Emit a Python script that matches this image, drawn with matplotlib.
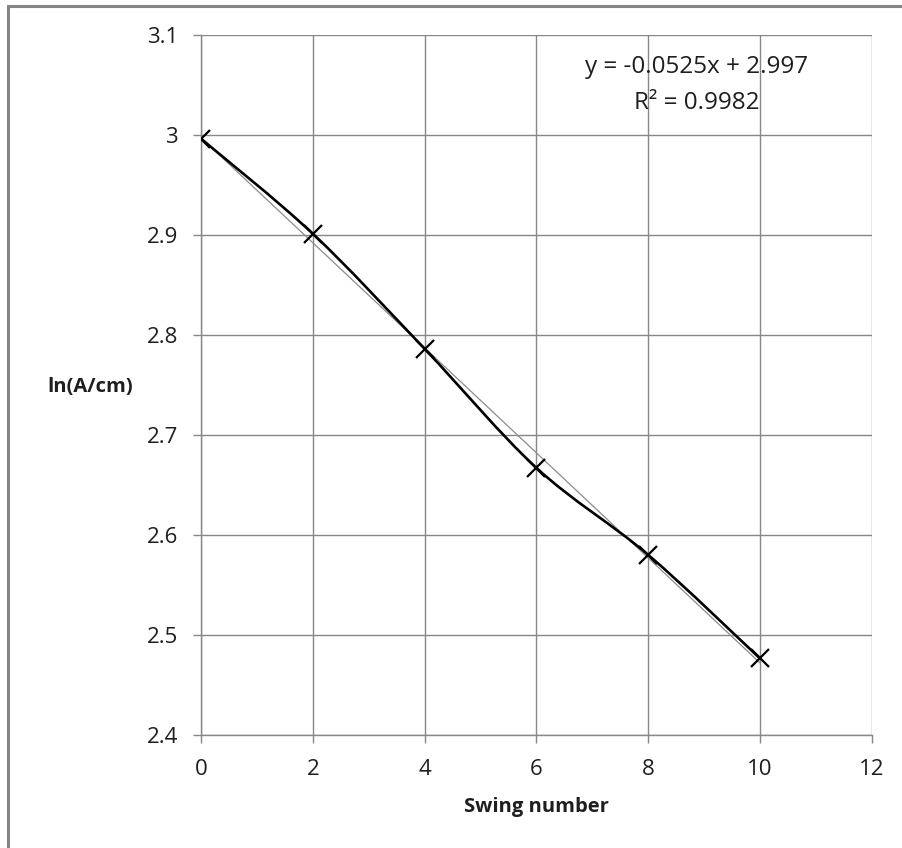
import matplotlib
matplotlib.use("Agg")
import matplotlib.pyplot as plt
from matplotlib.path import Path
from matplotlib.patches import PathPatch, Rectangle
import numpy as np

swing = [0, 2, 4, 6, 8, 10]
ln_a = [2.996, 2.901, 2.786, 2.667, 2.580, 2.4765]
slope = -0.0525
intercept = 2.997
eq_text = "y = -0.0525x + 2.997"
r2_text = "R\u00b2 = 0.9982"
x_ticks = [0, 2, 4, 6, 8, 10, 12]
y_ticks = [2.4, 2.5, 2.6, 2.7, 2.8, 2.9, 3.0, 3.1]
y_tick_labels = ['2.4', '2.5', '2.6', '2.7', '2.8', '2.9', '3', '3.1']

W, H = 902, 848
plt.rcParams['font.family'] = ['Open Sans', 'DejaVu Sans']
fig = plt.figure(figsize=(W/100, H/100), dpi=100)
ax = fig.add_axes([201/W, 1-734.7/H, (871.5-201)/W, (734.7-34.7)/H])
ax.set_xlim(0, 12)
ax.set_ylim(2.4, 3.1)

grid_c = '#878787'
txt_c = '#1e1e1e'
ax.set_xticks(x_ticks)
ax.set_yticks(y_ticks)
ax.set_yticklabels(y_tick_labels)
ax.grid(True, color=grid_c, linewidth=1.0)
for s in ['top', 'right']:
    ax.spines[s].set_visible(False)
for s in ['left', 'bottom']:
    ax.spines[s].set_color(grid_c)
    ax.spines[s].set_linewidth(1.0)
ax.tick_params(axis='both', direction='out', length=5.5, width=1.0, color=grid_c,
               labelsize=16, labelcolor=txt_c)
ax.tick_params(axis='y', pad=11)
ax.tick_params(axis='x', pad=12)

# trendline
xt = np.array([0, 10])
ax.plot(xt, slope*xt + intercept, color='#8c8c8c', linewidth=0.9, zorder=3)

# smoothed data line (Bezier through the points, like Excel's smoothed line)
pts = np.column_stack([swing, ln_a])
verts = [tuple(pts[0])]
codes = [Path.MOVETO]
n = len(pts)
t = 1/6
for i in range(n-1):
    p0 = pts[i-1] if i > 0 else pts[i]
    p1 = pts[i]
    p2 = pts[i+1]
    p3 = pts[i+2] if i+2 < n else pts[i+1]
    c1 = p1 + (p2 - p0)*t
    c2 = p2 - (p3 - p1)*t
    verts += [tuple(c1), tuple(c2), tuple(p2)]
    codes += [Path.CURVE4]*3
ax.add_patch(PathPatch(Path(verts, codes), facecolor='none', edgecolor='black',
                       linewidth=1.9, zorder=4))
ax.plot(swing, ln_a, linestyle='none', marker='x', markersize=13,
        markeredgewidth=1.6, color='black', zorder=5)

fig.text(697/W, 1-67/H, eq_text, ha='center', va='center', fontsize=17.5, color=txt_c)
fig.text(697/W, 1-103/H, r2_text, ha='center', va='center', fontsize=17.5, color=txt_c)
fig.text(90/W, 1-387/H, 'ln(A/cm)', ha='center', va='center', fontsize=14.5, fontweight='bold', color=txt_c)
fig.text(536/W, 1-807/H, 'Swing number', ha='center', va='center', fontsize=14.5, fontweight='bold', color=txt_c)

fig.patches.append(Rectangle((8/W, -0.1), 1.2, 1.1 - 6/H, transform=fig.transFigure,
                             fill=False, edgecolor='#858585', linewidth=2.2))

fig.savefig('out.png', dpi=100)
